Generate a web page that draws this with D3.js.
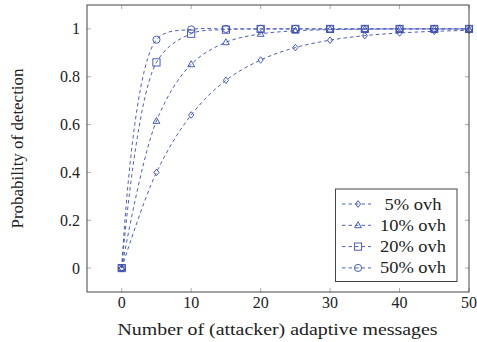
<!DOCTYPE html>
<html>
<head>
<meta charset="utf-8">
<script src="https://cdn.jsdelivr.net/npm/d3@7"></script>
<style>
body{margin:0;background:#fff}
svg text{font-family:"Liberation Serif",serif;fill:#222}
</style>
</head>
<body>
<svg id="chart"></svg>
<script>
let width=477
let height=342
let margin={top:5,right:8,bottom:50,left:87}

let xs=[0,5,10,15,20,25,30,35,40,45,50]
let ovh5 =[0,0.40,0.64,0.785,0.87,0.922,0.953,0.972,0.983,0.99,0.994]
let ovh10=[0,0.615,0.852,0.944,0.979,0.992,0.997,0.999,1,1,1]
let ovh20=[0,0.86,0.98,0.997,1,1,1,1,1,1,1]
let ovh50=[0,0.955,0.998,1,1,1,1,1,1,1,1]
let labels=['5% ovh','10% ovh','20% ovh','50% ovh']
let markers=['diamond','triangle','square','circle']
let xTicks=[0,10,20,30,40,50]
let yTicks=[0,0.2,0.4,0.6,0.8,1]

let blue='#3a4db2'
let fs=16
let svg=d3.select('#chart').attr('width',width).attr('height',height)

let xScale=d3.scaleLinear().domain([-5,50]).range([margin.left,width-margin.right])
let yScale=d3.scaleLinear().domain([-0.1,1.1]).range([height-margin.bottom,margin.top])

let series=[ovh5,ovh10,ovh20,ovh50]

// tick marks inside on all sides
let tickLen=4
let gx=svg.append('g')
xTicks.forEach(t=>{
  gx.append('line').attr('x1',xScale(t)).attr('x2',xScale(t))
    .attr('y1',yScale.range()[0]).attr('y2',yScale.range()[0]-tickLen)
    .attr('stroke','#999').attr('stroke-width',0.8)
  gx.append('line').attr('x1',xScale(t)).attr('x2',xScale(t))
    .attr('y1',yScale.range()[1]).attr('y2',yScale.range()[1]+tickLen)
    .attr('stroke','#999').attr('stroke-width',0.8)
  gx.append('text').attr('x',xScale(t)).attr('y',yScale.range()[0]+16)
    .attr('text-anchor','middle').attr('font-size',fs).text(t)
})
yTicks.forEach(t=>{
  gx.append('line').attr('y1',yScale(t)).attr('y2',yScale(t))
    .attr('x1',xScale.range()[0]).attr('x2',xScale.range()[0]+tickLen)
    .attr('stroke','#999').attr('stroke-width',0.8)
  gx.append('line').attr('y1',yScale(t)).attr('y2',yScale(t))
    .attr('x1',xScale.range()[1]).attr('x2',xScale.range()[1]-tickLen)
    .attr('stroke','#999').attr('stroke-width',0.8)
  gx.append('text').attr('x',xScale.range()[0]-7).attr('y',yScale(t)+5.5)
    .attr('text-anchor','end').attr('font-size',fs).text(d3.format('~g')(t))
})

let drawMarker=(g,type,x,y)=>{
  let m
  if(type=='diamond'){
    m=g.append('path').attr('d',`M${x},${y-3.3}L${x+2.6},${y}L${x},${y+3.3}L${x-2.6},${y}Z`)
  } else if(type=='triangle'){
    m=g.append('path').attr('d',`M${x},${y-3.6}L${x+3.4},${y+2.4}L${x-3.4},${y+2.4}Z`)
  } else if(type=='square'){
    m=g.append('rect').attr('x',x-3.6).attr('y',y-3.6).attr('width',7.2).attr('height',7.2)
  } else {
    m=g.append('circle').attr('cx',x).attr('cy',y).attr('r',3.6)
  }
  m.attr('fill','none').attr('stroke',blue).attr('stroke-width',0.9)
}

let line=d3.line().x((d,i)=>xScale(xs[i])).y(d=>yScale(d)).curve(d3.curveCatmullRom)

let plot=svg.append('g')
series.forEach((s,k)=>{
  plot.append('path').attr('d',line(s)).attr('fill','none')
    .attr('stroke',blue).attr('stroke-width',0.9).attr('stroke-dasharray','3.5,3')
  s.forEach((v,i)=>drawMarker(plot,markers[k],xScale(xs[i]),yScale(v)))
})

// frame
svg.append('rect').attr('x',margin.left).attr('y',margin.top)
  .attr('width',width-margin.left-margin.right).attr('height',height-margin.top-margin.bottom)
  .attr('fill','none').attr('stroke','#444').attr('stroke-width',1)

// legend
let lg=svg.append('g')
lg.append('rect').attr('x',335.5).attr('y',189).attr('width',121.5).attr('height',92.5)
  .attr('fill','#fff').attr('stroke','#444').attr('stroke-width',1)
labels.forEach((l,k)=>{
  let y=204+k*21.3
  lg.append('line').attr('x1',342).attr('x2',371).attr('y1',y).attr('y2',y)
    .attr('stroke',blue).attr('stroke-width',0.9).attr('stroke-dasharray','3.5,3')
  drawMarker(lg,markers[k],358,y)
  lg.append('text').attr('x',413).attr('y',y+5.5).attr('text-anchor','middle')
    .attr('font-size',fs).attr('textLength',k==0?57:66).attr('lengthAdjust','spacingAndGlyphs').text(l)
})

// axis labels
svg.append('text').attr('x',(xScale.range()[0]+xScale.range()[1])/2-0.5).attr('y',335)
  .attr('text-anchor','middle').attr('font-size',fs)
  .attr('textLength',320).attr('lengthAdjust','spacingAndGlyphs')
  .text('Number of (attacker) adaptive messages')
svg.append('text').attr('transform','translate(23,'+((yScale.range()[0]+yScale.range()[1])/2)+') rotate(-90)')
  .attr('text-anchor','middle').attr('font-size',fs)
  .attr('textLength',160).attr('lengthAdjust','spacingAndGlyphs')
  .text('Probability of detection')
</script>
</body>
</html>
